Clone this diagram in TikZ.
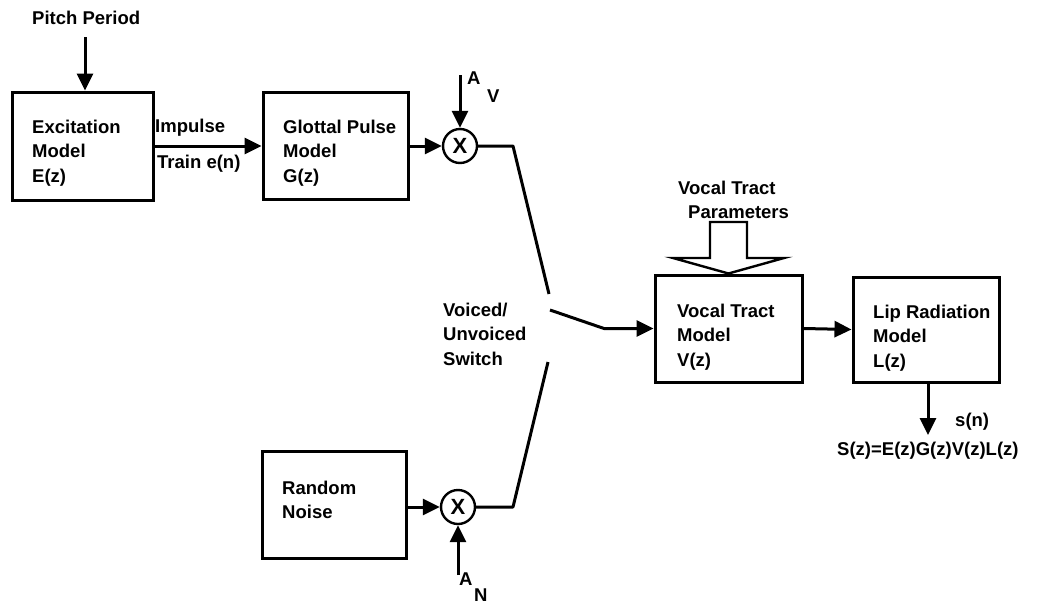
\documentclass[tikz,border=0pt]{standalone}
\usepackage{fontspec}
\setmainfont{Liberation Sans}
\usetikzlibrary{arrows.meta}
\begin{document}
\begin{tikzpicture}[x=1pt,y=-1pt,
  every node/.style={font=\fontsize{18.5}{24.5}\selectfont\bfseries},
  box/.style={draw,line width=3pt,inner sep=0pt},
  lbl/.style={anchor=west,align=left,inner sep=0pt},
  mult/.style={draw,circle,line width=2.4pt,minimum size=34pt,inner sep=0pt,font=\fontsize{22}{24}\selectfont},
  wire/.style={line width=3pt},
  arr/.style={line width=3pt,-{Triangle[length=17pt,width=16pt]}},
  hollow/.style={draw,line width=2.4pt,line join=miter}]
\useasboundingbox (0,0) rectangle (1038,605);
% boxes
\node[box,minimum width=141pt,minimum height=108pt] (exc) at (82.5,146) {};
\node[box,minimum width=145pt,minimum height=107pt] (glo) at (335.5,146) {};
\node[box,minimum width=144pt,minimum height=107pt] (noi) at (334,504.5) {};
\node[box,minimum width=147pt,minimum height=107pt] (vt) at (728.5,328.5) {};
\node[box,minimum width=146pt,minimum height=105pt] (lip) at (926,329.5) {};
% multipliers
\node[mult] (mv) at (460,146) {\bfseries X};
\node[mult] (mn) at (458,507) {\bfseries X};
% texts
\node[lbl] (tpitch) at (32,18) {Pitch Period};
\node[lbl] (texc) at (32,153) {Excitation\\Model\\E(z)};
\node[lbl] (tglo) at (283,153) {Glottal Pulse\\Model\\G(z)};
\node[lbl] (timp) at (155,128) {Impulse};
\node[lbl] (ttrain) at (157,164) {Train e(n)};
\node[lbl] (tav1) at (467,78) {A};
\node[lbl] (tav2) at (487,96) {V};
\node[lbl] (tsw) at (443,334) {Voiced/\\Unvoiced\\Switch};
\node[lbl] (tnoi) at (282,500) {Random\\Noise};
\node[lbl] (tan1) at (459,579) {A};
\node[lbl] (tan2) at (474,595) {N};
\node[lbl] (tvtp1) at (678,188) {Vocal Tract};
\node[lbl] (tvtp2) at (688,212) {Parameters};
\node[lbl] (tvt) at (677,337) {Vocal Tract\\Model\\V(z)};
\node[lbl] (tlip) at (873,338) {Lip Radiation\\Model\\L(z)};
\node[lbl] (tsn) at (955,422) {s(n)};
\node[lbl] (tsz) at (837,451) {S(z)=E(z)G(z)V(z)L(z)};
% coordinates
\coordinate (p0) at (85,37);
\coordinate (av) at (460,75);
\coordinate (an) at (458,575);
\coordinate (k1) at (513,146);
\coordinate (swa) at (549,294);
\coordinate (k2) at (513,507);
\coordinate (swb) at (548,362);
\coordinate (sw) at (550,310);
\coordinate (k3) at (604,328.5);
\coordinate (so) at (928,435);
% connectors
\draw[arr] (p0) -- (p0 |- exc.north);
\draw[arr] (exc.east) -- (glo.west);
\draw[arr] (glo.east) -- (mv.west);
\draw[arr] (av) -- (mv.north);
\draw[wire,line join=round] (mv.east) -- (k1) -- (swa);
\draw[arr] (noi.east |- mn) -- (mn.west);
\draw[arr] (an) -- (mn.south);
\draw[wire,line join=round] (mn.east) -- (k2) -- (swb);
\draw[arr,line join=round] (sw) -- (k3) -- (vt.west);
\draw[arr] (vt.east) -- (lip.west);
\draw[arr] (lip.south -| so) -- (so);
% hollow arrow
\draw[hollow] (710,222) -- (747,222) -- (747,258) -- (784,258) -- (vt.north) -- (673,258) -- (710,258) -- cycle;
\end{tikzpicture}
\end{document}
